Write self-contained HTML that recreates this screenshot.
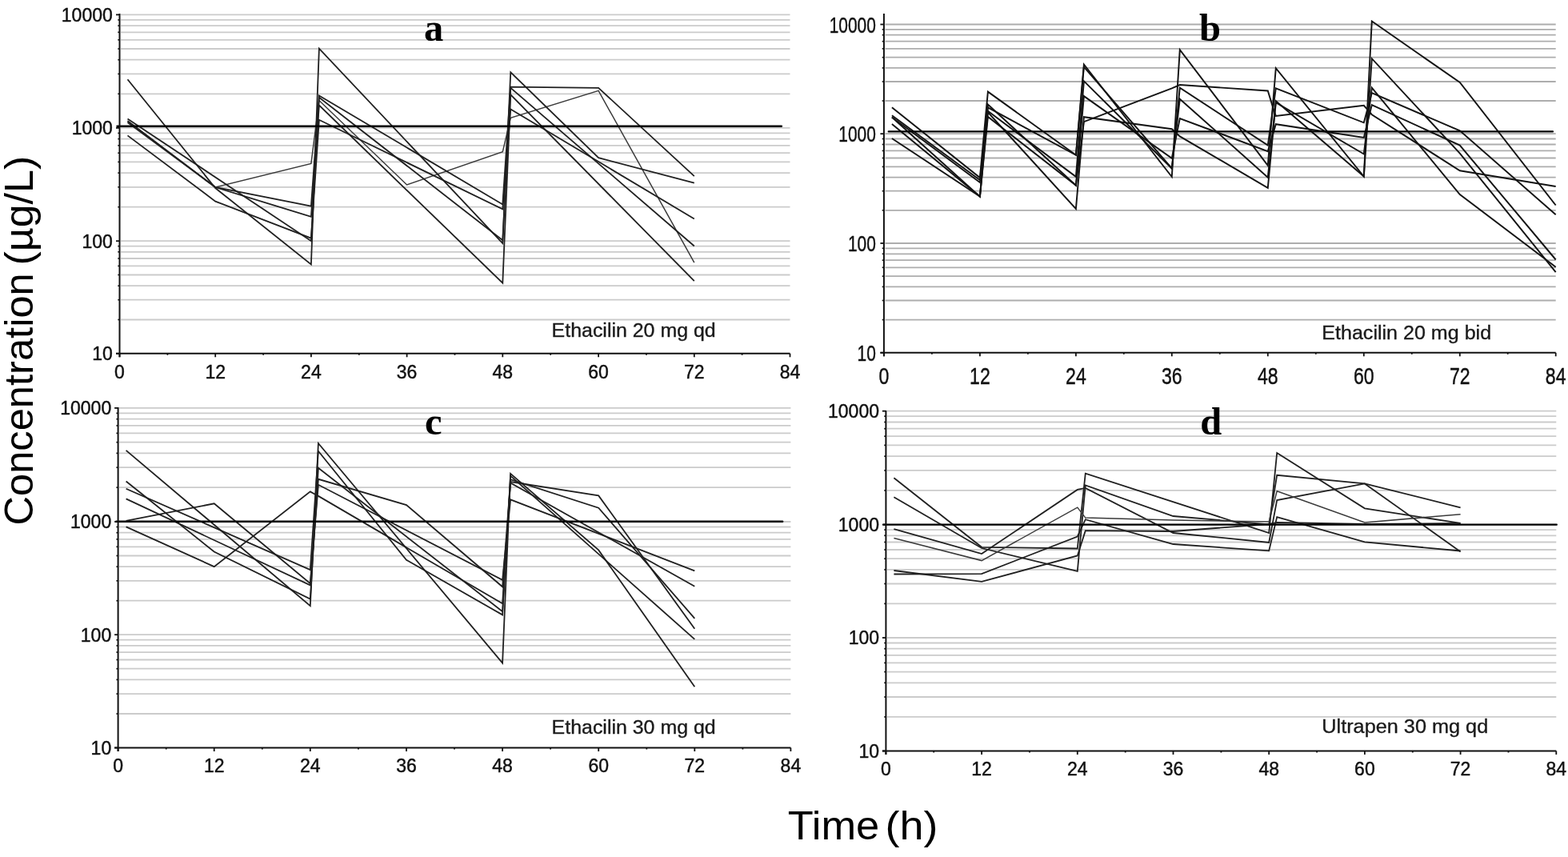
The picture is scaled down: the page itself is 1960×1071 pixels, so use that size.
<!DOCTYPE html>
<html><head><meta charset="utf-8"><title>Concentration-time profiles</title>
<style>
html,body{margin:0;padding:0;background:#fff;}
svg{display:block;}
.tk{font-family:"Liberation Sans",Arial,sans-serif;fill:#111;stroke:#111;stroke-width:0.45px;}
.an{font-family:"Liberation Sans",Arial,sans-serif;font-size:23.5px;fill:#1a1a1a;stroke:#1a1a1a;stroke-width:0.35px;}
.lt{font-family:"Liberation Serif","Times New Roman",serif;font-weight:bold;font-size:48.5px;fill:#000;}
.big{font-family:"Liberation Sans",Arial,sans-serif;font-size:50px;fill:#000;}
</style></head><body>
<svg width="1960" height="1071" viewBox="0 0 1960 1071">
<rect width="1960" height="1071" fill="#fff"/>
<g id="pa"><line x1="151.0" y1="399.5" x2="987.5" y2="399.5" stroke="#cbcbcb" stroke-width="1.8"/>
<line x1="151.0" y1="374.7" x2="987.5" y2="374.7" stroke="#cbcbcb" stroke-width="1.8"/>
<line x1="151.0" y1="357.2" x2="987.5" y2="357.2" stroke="#cbcbcb" stroke-width="1.8"/>
<line x1="151.0" y1="343.5" x2="987.5" y2="343.5" stroke="#cbcbcb" stroke-width="1.8"/>
<line x1="151.0" y1="332.4" x2="987.5" y2="332.4" stroke="#cbcbcb" stroke-width="1.8"/>
<line x1="151.0" y1="323.0" x2="987.5" y2="323.0" stroke="#cbcbcb" stroke-width="1.8"/>
<line x1="151.0" y1="314.8" x2="987.5" y2="314.8" stroke="#cbcbcb" stroke-width="1.8"/>
<line x1="151.0" y1="307.6" x2="987.5" y2="307.6" stroke="#cbcbcb" stroke-width="1.8"/>
<line x1="151.0" y1="301.2" x2="987.5" y2="301.2" stroke="#cbcbcb" stroke-width="1.8"/>
<line x1="151.0" y1="258.7" x2="987.5" y2="258.7" stroke="#cbcbcb" stroke-width="1.8"/>
<line x1="151.0" y1="233.8" x2="987.5" y2="233.8" stroke="#cbcbcb" stroke-width="1.8"/>
<line x1="151.0" y1="216.1" x2="987.5" y2="216.1" stroke="#cbcbcb" stroke-width="1.8"/>
<line x1="151.0" y1="202.4" x2="987.5" y2="202.4" stroke="#cbcbcb" stroke-width="1.8"/>
<line x1="151.0" y1="191.2" x2="987.5" y2="191.2" stroke="#cbcbcb" stroke-width="1.8"/>
<line x1="151.0" y1="181.8" x2="987.5" y2="181.8" stroke="#cbcbcb" stroke-width="1.8"/>
<line x1="151.0" y1="173.6" x2="987.5" y2="173.6" stroke="#cbcbcb" stroke-width="1.8"/>
<line x1="151.0" y1="166.4" x2="987.5" y2="166.4" stroke="#cbcbcb" stroke-width="1.8"/>
<line x1="151.0" y1="159.9" x2="987.5" y2="159.9" stroke="#cbcbcb" stroke-width="1.8"/>
<line x1="151.0" y1="117.3" x2="987.5" y2="117.3" stroke="#cbcbcb" stroke-width="1.8"/>
<line x1="151.0" y1="92.4" x2="987.5" y2="92.4" stroke="#cbcbcb" stroke-width="1.8"/>
<line x1="151.0" y1="74.7" x2="987.5" y2="74.7" stroke="#cbcbcb" stroke-width="1.8"/>
<line x1="151.0" y1="61.0" x2="987.5" y2="61.0" stroke="#cbcbcb" stroke-width="1.8"/>
<line x1="151.0" y1="49.8" x2="987.5" y2="49.8" stroke="#cbcbcb" stroke-width="1.8"/>
<line x1="151.0" y1="40.3" x2="987.5" y2="40.3" stroke="#cbcbcb" stroke-width="1.8"/>
<line x1="151.0" y1="32.1" x2="987.5" y2="32.1" stroke="#cbcbcb" stroke-width="1.8"/>
<line x1="151.0" y1="24.9" x2="987.5" y2="24.9" stroke="#cbcbcb" stroke-width="1.8"/>
<line x1="151.0" y1="18.4" x2="987.5" y2="18.4" stroke="#cbcbcb" stroke-width="1.8"/>
<line x1="145.0" y1="441.8" x2="149.5" y2="441.8" stroke="#111" stroke-width="1.8"/>
<line x1="147.3" y1="399.5" x2="149.5" y2="399.5" stroke="#111" stroke-width="1.6"/>
<line x1="147.3" y1="374.7" x2="149.5" y2="374.7" stroke="#111" stroke-width="1.6"/>
<line x1="147.3" y1="357.2" x2="149.5" y2="357.2" stroke="#111" stroke-width="1.6"/>
<line x1="147.3" y1="343.5" x2="149.5" y2="343.5" stroke="#111" stroke-width="1.6"/>
<line x1="147.3" y1="332.4" x2="149.5" y2="332.4" stroke="#111" stroke-width="1.6"/>
<line x1="147.3" y1="323.0" x2="149.5" y2="323.0" stroke="#111" stroke-width="1.6"/>
<line x1="147.3" y1="314.8" x2="149.5" y2="314.8" stroke="#111" stroke-width="1.6"/>
<line x1="147.3" y1="307.6" x2="149.5" y2="307.6" stroke="#111" stroke-width="1.6"/>
<line x1="145.0" y1="301.2" x2="149.5" y2="301.2" stroke="#111" stroke-width="1.8"/>
<line x1="147.3" y1="258.7" x2="149.5" y2="258.7" stroke="#111" stroke-width="1.6"/>
<line x1="147.3" y1="233.8" x2="149.5" y2="233.8" stroke="#111" stroke-width="1.6"/>
<line x1="147.3" y1="216.1" x2="149.5" y2="216.1" stroke="#111" stroke-width="1.6"/>
<line x1="147.3" y1="202.4" x2="149.5" y2="202.4" stroke="#111" stroke-width="1.6"/>
<line x1="147.3" y1="191.2" x2="149.5" y2="191.2" stroke="#111" stroke-width="1.6"/>
<line x1="147.3" y1="181.8" x2="149.5" y2="181.8" stroke="#111" stroke-width="1.6"/>
<line x1="147.3" y1="173.6" x2="149.5" y2="173.6" stroke="#111" stroke-width="1.6"/>
<line x1="147.3" y1="166.4" x2="149.5" y2="166.4" stroke="#111" stroke-width="1.6"/>
<line x1="145.0" y1="159.9" x2="149.5" y2="159.9" stroke="#111" stroke-width="1.8"/>
<line x1="147.3" y1="117.3" x2="149.5" y2="117.3" stroke="#111" stroke-width="1.6"/>
<line x1="147.3" y1="92.4" x2="149.5" y2="92.4" stroke="#111" stroke-width="1.6"/>
<line x1="147.3" y1="74.7" x2="149.5" y2="74.7" stroke="#111" stroke-width="1.6"/>
<line x1="147.3" y1="61.0" x2="149.5" y2="61.0" stroke="#111" stroke-width="1.6"/>
<line x1="147.3" y1="49.8" x2="149.5" y2="49.8" stroke="#111" stroke-width="1.6"/>
<line x1="147.3" y1="40.3" x2="149.5" y2="40.3" stroke="#111" stroke-width="1.6"/>
<line x1="147.3" y1="32.1" x2="149.5" y2="32.1" stroke="#111" stroke-width="1.6"/>
<line x1="147.3" y1="24.9" x2="149.5" y2="24.9" stroke="#111" stroke-width="1.6"/>
<line x1="145.0" y1="18.4" x2="149.5" y2="18.4" stroke="#111" stroke-width="1.8"/>
<line x1="149.5" y1="441.8" x2="149.5" y2="446.3" stroke="#111" stroke-width="1.8"/>
<line x1="209.4" y1="441.8" x2="209.4" y2="443.8" stroke="#111" stroke-width="1.8"/>
<line x1="269.2" y1="441.8" x2="269.2" y2="446.3" stroke="#111" stroke-width="1.8"/>
<line x1="329.1" y1="441.8" x2="329.1" y2="443.8" stroke="#111" stroke-width="1.8"/>
<line x1="388.9" y1="441.8" x2="388.9" y2="446.3" stroke="#111" stroke-width="1.8"/>
<line x1="448.8" y1="441.8" x2="448.8" y2="443.8" stroke="#111" stroke-width="1.8"/>
<line x1="508.6" y1="441.8" x2="508.6" y2="446.3" stroke="#111" stroke-width="1.8"/>
<line x1="568.5" y1="441.8" x2="568.5" y2="443.8" stroke="#111" stroke-width="1.8"/>
<line x1="628.3" y1="441.8" x2="628.3" y2="446.3" stroke="#111" stroke-width="1.8"/>
<line x1="688.2" y1="441.8" x2="688.2" y2="443.8" stroke="#111" stroke-width="1.8"/>
<line x1="748.1" y1="441.8" x2="748.1" y2="446.3" stroke="#111" stroke-width="1.8"/>
<line x1="807.9" y1="441.8" x2="807.9" y2="443.8" stroke="#111" stroke-width="1.8"/>
<line x1="867.8" y1="441.8" x2="867.8" y2="446.3" stroke="#111" stroke-width="1.8"/>
<line x1="927.6" y1="441.8" x2="927.6" y2="443.8" stroke="#111" stroke-width="1.8"/>
<line x1="987.5" y1="441.8" x2="987.5" y2="446.3" stroke="#111" stroke-width="1.8"/>
<polyline points="159.5,151.2 269.2,234.0 388.9,204.4 398.9,125.5 508.6,231.0 628.3,189.8 638.3,147.4 748.1,113.4 867.8,328.1" fill="none" stroke="#3a3a3a" stroke-width="1.5" stroke-linejoin="miter" stroke-miterlimit="10"/>
<polyline points="159.5,99.3 269.2,235.0 388.9,330.4 398.9,60.6 628.3,304.0 638.3,90.3 748.1,197.2 867.8,228.6" fill="none" stroke="#202020" stroke-width="1.8" stroke-linejoin="miter" stroke-miterlimit="10"/>
<polyline points="159.5,148.4 388.9,301.2 398.9,121.8 628.3,300.3 638.3,109.8 867.8,307.5" fill="none" stroke="#202020" stroke-width="1.8" stroke-linejoin="miter" stroke-miterlimit="10"/>
<polyline points="159.5,151.2 269.2,234.0 388.9,257.6 398.9,119.4 628.3,255.4 638.3,108.6 748.1,109.8 867.8,220.1" fill="none" stroke="#202020" stroke-width="1.8" stroke-linejoin="miter" stroke-miterlimit="10"/>
<polyline points="159.5,153.0 269.2,234.0 388.9,270.9 398.9,131.6 628.3,353.7 638.3,118.3 867.8,351.2" fill="none" stroke="#202020" stroke-width="1.8" stroke-linejoin="miter" stroke-miterlimit="10"/>
<polyline points="159.5,169.4 269.2,251.6 388.9,297.7 398.9,149.8 628.3,261.4 638.3,136.5 867.8,273.5" fill="none" stroke="#202020" stroke-width="1.8" stroke-linejoin="miter" stroke-miterlimit="10"/>
<line x1="146.6" y1="157.8" x2="976.8" y2="157.8" stroke="#000" stroke-width="2.6" stroke-linecap="round"/>
<line x1="149.5" y1="17.0" x2="149.5" y2="446.3" stroke="#111" stroke-width="2"/>
<line x1="145.0" y1="441.8" x2="987.5" y2="441.8" stroke="#111" stroke-width="2"/>
<text x="140.8" y="450.1" text-anchor="end" class="tk" font-size="23">10</text>
<text x="140.8" y="309.5" text-anchor="end" class="tk" font-size="23">100</text>
<text x="140.8" y="168.2" text-anchor="end" class="tk" font-size="23">1000</text>
<text x="140.8" y="26.7" text-anchor="end" class="tk" font-size="23">10000</text>
<text x="149.5" y="472.7" text-anchor="middle" class="tk" font-size="23">0</text>
<text x="269.2" y="472.7" text-anchor="middle" class="tk" font-size="23">12</text>
<text x="388.9" y="472.7" text-anchor="middle" class="tk" font-size="23">24</text>
<text x="508.6" y="472.7" text-anchor="middle" class="tk" font-size="23">36</text>
<text x="628.3" y="472.7" text-anchor="middle" class="tk" font-size="23">48</text>
<text x="748.1" y="472.7" text-anchor="middle" class="tk" font-size="23">60</text>
<text x="867.8" y="472.7" text-anchor="middle" class="tk" font-size="23">72</text>
<text x="987.5" y="472.7" text-anchor="middle" class="tk" font-size="23">84</text>
<text x="689.6" y="421.2" class="an" textLength="205.1" lengthAdjust="spacingAndGlyphs">Ethacilin 20 mg qd</text>
<text x="542.1" y="51.0" text-anchor="middle" class="lt">a</text></g>
<g id="pb"><line x1="1106.4" y1="399.6" x2="1944.7" y2="399.6" stroke="#adadad" stroke-width="1.8"/>
<line x1="1106.4" y1="375.5" x2="1944.7" y2="375.5" stroke="#adadad" stroke-width="1.8"/>
<line x1="1106.4" y1="358.4" x2="1944.7" y2="358.4" stroke="#adadad" stroke-width="1.8"/>
<line x1="1106.4" y1="345.2" x2="1944.7" y2="345.2" stroke="#adadad" stroke-width="1.8"/>
<line x1="1106.4" y1="334.3" x2="1944.7" y2="334.3" stroke="#adadad" stroke-width="1.8"/>
<line x1="1106.4" y1="325.2" x2="1944.7" y2="325.2" stroke="#adadad" stroke-width="1.8"/>
<line x1="1106.4" y1="317.3" x2="1944.7" y2="317.3" stroke="#adadad" stroke-width="1.8"/>
<line x1="1106.4" y1="310.3" x2="1944.7" y2="310.3" stroke="#adadad" stroke-width="1.8"/>
<line x1="1106.4" y1="304.0" x2="1944.7" y2="304.0" stroke="#adadad" stroke-width="1.8"/>
<line x1="1106.4" y1="262.8" x2="1944.7" y2="262.8" stroke="#adadad" stroke-width="1.8"/>
<line x1="1106.4" y1="238.7" x2="1944.7" y2="238.7" stroke="#adadad" stroke-width="1.8"/>
<line x1="1106.4" y1="221.6" x2="1944.7" y2="221.6" stroke="#adadad" stroke-width="1.8"/>
<line x1="1106.4" y1="208.4" x2="1944.7" y2="208.4" stroke="#adadad" stroke-width="1.8"/>
<line x1="1106.4" y1="197.5" x2="1944.7" y2="197.5" stroke="#adadad" stroke-width="1.8"/>
<line x1="1106.4" y1="188.4" x2="1944.7" y2="188.4" stroke="#adadad" stroke-width="1.8"/>
<line x1="1106.4" y1="180.5" x2="1944.7" y2="180.5" stroke="#adadad" stroke-width="1.8"/>
<line x1="1106.4" y1="173.5" x2="1944.7" y2="173.5" stroke="#adadad" stroke-width="1.8"/>
<line x1="1106.4" y1="167.2" x2="1944.7" y2="167.2" stroke="#adadad" stroke-width="1.8"/>
<line x1="1106.4" y1="126.0" x2="1944.7" y2="126.0" stroke="#adadad" stroke-width="1.8"/>
<line x1="1106.4" y1="102.0" x2="1944.7" y2="102.0" stroke="#adadad" stroke-width="1.8"/>
<line x1="1106.4" y1="84.9" x2="1944.7" y2="84.9" stroke="#adadad" stroke-width="1.8"/>
<line x1="1106.4" y1="71.7" x2="1944.7" y2="71.7" stroke="#adadad" stroke-width="1.8"/>
<line x1="1106.4" y1="60.8" x2="1944.7" y2="60.8" stroke="#adadad" stroke-width="1.8"/>
<line x1="1106.4" y1="51.7" x2="1944.7" y2="51.7" stroke="#adadad" stroke-width="1.8"/>
<line x1="1106.4" y1="43.7" x2="1944.7" y2="43.7" stroke="#adadad" stroke-width="1.8"/>
<line x1="1106.4" y1="36.8" x2="1944.7" y2="36.8" stroke="#adadad" stroke-width="1.8"/>
<line x1="1106.4" y1="30.5" x2="1944.7" y2="30.5" stroke="#adadad" stroke-width="1.8"/>
<line x1="1100.4" y1="440.8" x2="1104.9" y2="440.8" stroke="#111" stroke-width="1.8"/>
<line x1="1102.7" y1="399.6" x2="1104.9" y2="399.6" stroke="#111" stroke-width="1.6"/>
<line x1="1102.7" y1="375.5" x2="1104.9" y2="375.5" stroke="#111" stroke-width="1.6"/>
<line x1="1102.7" y1="358.4" x2="1104.9" y2="358.4" stroke="#111" stroke-width="1.6"/>
<line x1="1102.7" y1="345.2" x2="1104.9" y2="345.2" stroke="#111" stroke-width="1.6"/>
<line x1="1102.7" y1="334.3" x2="1104.9" y2="334.3" stroke="#111" stroke-width="1.6"/>
<line x1="1102.7" y1="325.2" x2="1104.9" y2="325.2" stroke="#111" stroke-width="1.6"/>
<line x1="1102.7" y1="317.3" x2="1104.9" y2="317.3" stroke="#111" stroke-width="1.6"/>
<line x1="1102.7" y1="310.3" x2="1104.9" y2="310.3" stroke="#111" stroke-width="1.6"/>
<line x1="1100.4" y1="304.0" x2="1104.9" y2="304.0" stroke="#111" stroke-width="1.8"/>
<line x1="1102.7" y1="262.8" x2="1104.9" y2="262.8" stroke="#111" stroke-width="1.6"/>
<line x1="1102.7" y1="238.7" x2="1104.9" y2="238.7" stroke="#111" stroke-width="1.6"/>
<line x1="1102.7" y1="221.6" x2="1104.9" y2="221.6" stroke="#111" stroke-width="1.6"/>
<line x1="1102.7" y1="208.4" x2="1104.9" y2="208.4" stroke="#111" stroke-width="1.6"/>
<line x1="1102.7" y1="197.5" x2="1104.9" y2="197.5" stroke="#111" stroke-width="1.6"/>
<line x1="1102.7" y1="188.4" x2="1104.9" y2="188.4" stroke="#111" stroke-width="1.6"/>
<line x1="1102.7" y1="180.5" x2="1104.9" y2="180.5" stroke="#111" stroke-width="1.6"/>
<line x1="1102.7" y1="173.5" x2="1104.9" y2="173.5" stroke="#111" stroke-width="1.6"/>
<line x1="1100.4" y1="167.2" x2="1104.9" y2="167.2" stroke="#111" stroke-width="1.8"/>
<line x1="1102.7" y1="126.0" x2="1104.9" y2="126.0" stroke="#111" stroke-width="1.6"/>
<line x1="1102.7" y1="102.0" x2="1104.9" y2="102.0" stroke="#111" stroke-width="1.6"/>
<line x1="1102.7" y1="84.9" x2="1104.9" y2="84.9" stroke="#111" stroke-width="1.6"/>
<line x1="1102.7" y1="71.7" x2="1104.9" y2="71.7" stroke="#111" stroke-width="1.6"/>
<line x1="1102.7" y1="60.8" x2="1104.9" y2="60.8" stroke="#111" stroke-width="1.6"/>
<line x1="1102.7" y1="51.7" x2="1104.9" y2="51.7" stroke="#111" stroke-width="1.6"/>
<line x1="1102.7" y1="43.7" x2="1104.9" y2="43.7" stroke="#111" stroke-width="1.6"/>
<line x1="1102.7" y1="36.8" x2="1104.9" y2="36.8" stroke="#111" stroke-width="1.6"/>
<line x1="1100.4" y1="30.5" x2="1104.9" y2="30.5" stroke="#111" stroke-width="1.8"/>
<line x1="1104.9" y1="440.8" x2="1104.9" y2="445.3" stroke="#111" stroke-width="1.8"/>
<line x1="1164.9" y1="440.8" x2="1164.9" y2="442.8" stroke="#111" stroke-width="1.8"/>
<line x1="1224.9" y1="440.8" x2="1224.9" y2="445.3" stroke="#111" stroke-width="1.8"/>
<line x1="1284.9" y1="440.8" x2="1284.9" y2="442.8" stroke="#111" stroke-width="1.8"/>
<line x1="1344.9" y1="440.8" x2="1344.9" y2="445.3" stroke="#111" stroke-width="1.8"/>
<line x1="1404.8" y1="440.8" x2="1404.8" y2="442.8" stroke="#111" stroke-width="1.8"/>
<line x1="1464.8" y1="440.8" x2="1464.8" y2="445.3" stroke="#111" stroke-width="1.8"/>
<line x1="1524.8" y1="440.8" x2="1524.8" y2="442.8" stroke="#111" stroke-width="1.8"/>
<line x1="1584.8" y1="440.8" x2="1584.8" y2="445.3" stroke="#111" stroke-width="1.8"/>
<line x1="1644.8" y1="440.8" x2="1644.8" y2="442.8" stroke="#111" stroke-width="1.8"/>
<line x1="1704.8" y1="440.8" x2="1704.8" y2="445.3" stroke="#111" stroke-width="1.8"/>
<line x1="1764.8" y1="440.8" x2="1764.8" y2="442.8" stroke="#111" stroke-width="1.8"/>
<line x1="1824.8" y1="440.8" x2="1824.8" y2="445.3" stroke="#111" stroke-width="1.8"/>
<line x1="1884.7" y1="440.8" x2="1884.7" y2="442.8" stroke="#111" stroke-width="1.8"/>
<line x1="1944.7" y1="440.8" x2="1944.7" y2="445.3" stroke="#111" stroke-width="1.8"/>
<polyline points="1114.9,134.2 1224.9,222.1 1234.9,114.6 1344.9,193.8 1354.9,80.5 1464.8,221.0 1474.8,62.1 1584.8,206.8 1594.8,85.2 1704.8,220.5 1714.8,26.5 1824.8,103.0 1944.7,256.5" fill="none" stroke="#141414" stroke-width="1.95" stroke-linejoin="miter" stroke-miterlimit="10"/>
<polyline points="1114.9,144.3 1224.9,225.0 1234.9,134.4 1344.9,193.8 1354.9,83.5 1464.8,210.5 1474.8,123.7 1584.8,221.7 1594.8,126.3 1704.8,220.5 1714.8,73.2 1824.8,191.6 1944.7,340.2" fill="none" stroke="#141414" stroke-width="1.95" stroke-linejoin="miter" stroke-miterlimit="10"/>
<polyline points="1114.9,146.5 1224.9,228.0 1234.9,138.8 1344.9,220.9 1354.9,101.4 1464.8,210.5 1474.8,109.7 1584.8,181.6 1594.8,110.4 1704.8,153.3 1714.8,116.1 1824.8,163.3 1944.7,268.3" fill="none" stroke="#141414" stroke-width="1.95" stroke-linejoin="miter" stroke-miterlimit="10"/>
<polyline points="1114.9,146.5 1224.9,245.6 1234.9,130.6 1344.9,231.6 1354.9,120.1 1464.8,197.8 1474.8,148.0 1584.8,189.1 1594.8,155.2 1704.8,172.0 1714.8,131.1 1824.8,181.5 1944.7,324.5" fill="none" stroke="#141414" stroke-width="1.95" stroke-linejoin="miter" stroke-miterlimit="10"/>
<polyline points="1114.9,155.1 1224.9,245.6 1234.9,145.9 1344.9,231.6 1354.9,152.2 1464.8,110.4 1474.8,106.0 1584.8,113.5 1591.3,134.7 1594.8,144.9 1704.8,131.9 1714.8,143.2 1824.8,213.3 1944.7,233.0" fill="none" stroke="#141414" stroke-width="1.95" stroke-linejoin="miter" stroke-miterlimit="10"/>
<polyline points="1114.9,173.0 1224.9,245.6 1234.9,140.3 1344.9,261.0 1354.9,146.2 1464.8,161.2 1474.8,170.4 1584.8,234.8 1594.8,128.1 1704.8,192.5 1714.8,109.6 1824.8,243.0 1944.7,333.7" fill="none" stroke="#141414" stroke-width="1.95" stroke-linejoin="miter" stroke-miterlimit="10"/>
<line x1="1110.7" y1="164.4" x2="1941.0" y2="164.4" stroke="#000" stroke-width="2.3" stroke-linecap="round"/>
<line x1="1104.9" y1="17.0" x2="1104.9" y2="445.3" stroke="#111" stroke-width="2"/>
<line x1="1100.4" y1="440.8" x2="1944.7" y2="440.8" stroke="#111" stroke-width="2"/>
<text transform="translate(1094.9,451.0) scale(0.74,1)" x="0" y="0" text-anchor="end" class="tk" font-size="28.3">10</text>
<text transform="translate(1094.9,314.2) scale(0.74,1)" x="0" y="0" text-anchor="end" class="tk" font-size="28.3">100</text>
<text transform="translate(1094.9,177.4) scale(0.74,1)" x="0" y="0" text-anchor="end" class="tk" font-size="28.3">1000</text>
<text transform="translate(1094.9,40.7) scale(0.74,1)" x="0" y="0" text-anchor="end" class="tk" font-size="28.3">10000</text>
<text transform="translate(1104.9,480.0) scale(0.76,1)" x="0" y="0" text-anchor="middle" class="tk" font-size="30.4">0</text>
<text transform="translate(1224.9,480.0) scale(0.76,1)" x="0" y="0" text-anchor="middle" class="tk" font-size="30.4">12</text>
<text transform="translate(1344.9,480.0) scale(0.76,1)" x="0" y="0" text-anchor="middle" class="tk" font-size="30.4">24</text>
<text transform="translate(1464.8,480.0) scale(0.76,1)" x="0" y="0" text-anchor="middle" class="tk" font-size="30.4">36</text>
<text transform="translate(1584.8,480.0) scale(0.76,1)" x="0" y="0" text-anchor="middle" class="tk" font-size="30.4">48</text>
<text transform="translate(1704.8,480.0) scale(0.76,1)" x="0" y="0" text-anchor="middle" class="tk" font-size="30.4">60</text>
<text transform="translate(1824.8,480.0) scale(0.76,1)" x="0" y="0" text-anchor="middle" class="tk" font-size="30.4">72</text>
<text transform="translate(1944.7,480.0) scale(0.76,1)" x="0" y="0" text-anchor="middle" class="tk" font-size="30.4">84</text>
<text x="1652.3" y="423.8" class="an" textLength="211.8" lengthAdjust="spacingAndGlyphs">Ethacilin 20 mg bid</text>
<text x="1512.5" y="51.0" text-anchor="middle" class="lt">b</text></g>
<g id="pc"><line x1="149.1" y1="892.0" x2="988.4" y2="892.0" stroke="#cbcbcb" stroke-width="1.8"/>
<line x1="149.1" y1="867.1" x2="988.4" y2="867.1" stroke="#cbcbcb" stroke-width="1.8"/>
<line x1="149.1" y1="849.4" x2="988.4" y2="849.4" stroke="#cbcbcb" stroke-width="1.8"/>
<line x1="149.1" y1="835.7" x2="988.4" y2="835.7" stroke="#cbcbcb" stroke-width="1.8"/>
<line x1="149.1" y1="824.5" x2="988.4" y2="824.5" stroke="#cbcbcb" stroke-width="1.8"/>
<line x1="149.1" y1="815.1" x2="988.4" y2="815.1" stroke="#cbcbcb" stroke-width="1.8"/>
<line x1="149.1" y1="806.9" x2="988.4" y2="806.9" stroke="#cbcbcb" stroke-width="1.8"/>
<line x1="149.1" y1="799.7" x2="988.4" y2="799.7" stroke="#cbcbcb" stroke-width="1.8"/>
<line x1="149.1" y1="793.2" x2="988.4" y2="793.2" stroke="#cbcbcb" stroke-width="1.8"/>
<line x1="149.1" y1="750.7" x2="988.4" y2="750.7" stroke="#cbcbcb" stroke-width="1.8"/>
<line x1="149.1" y1="725.8" x2="988.4" y2="725.8" stroke="#cbcbcb" stroke-width="1.8"/>
<line x1="149.1" y1="708.2" x2="988.4" y2="708.2" stroke="#cbcbcb" stroke-width="1.8"/>
<line x1="149.1" y1="694.5" x2="988.4" y2="694.5" stroke="#cbcbcb" stroke-width="1.8"/>
<line x1="149.1" y1="683.3" x2="988.4" y2="683.3" stroke="#cbcbcb" stroke-width="1.8"/>
<line x1="149.1" y1="673.9" x2="988.4" y2="673.9" stroke="#cbcbcb" stroke-width="1.8"/>
<line x1="149.1" y1="665.7" x2="988.4" y2="665.7" stroke="#cbcbcb" stroke-width="1.8"/>
<line x1="149.1" y1="658.5" x2="988.4" y2="658.5" stroke="#cbcbcb" stroke-width="1.8"/>
<line x1="149.1" y1="652.0" x2="988.4" y2="652.0" stroke="#cbcbcb" stroke-width="1.8"/>
<line x1="149.1" y1="609.2" x2="988.4" y2="609.2" stroke="#cbcbcb" stroke-width="1.8"/>
<line x1="149.1" y1="584.2" x2="988.4" y2="584.2" stroke="#cbcbcb" stroke-width="1.8"/>
<line x1="149.1" y1="566.4" x2="988.4" y2="566.4" stroke="#cbcbcb" stroke-width="1.8"/>
<line x1="149.1" y1="552.7" x2="988.4" y2="552.7" stroke="#cbcbcb" stroke-width="1.8"/>
<line x1="149.1" y1="541.4" x2="988.4" y2="541.4" stroke="#cbcbcb" stroke-width="1.8"/>
<line x1="149.1" y1="531.9" x2="988.4" y2="531.9" stroke="#cbcbcb" stroke-width="1.8"/>
<line x1="149.1" y1="523.7" x2="988.4" y2="523.7" stroke="#cbcbcb" stroke-width="1.8"/>
<line x1="149.1" y1="516.4" x2="988.4" y2="516.4" stroke="#cbcbcb" stroke-width="1.8"/>
<line x1="149.1" y1="509.9" x2="988.4" y2="509.9" stroke="#cbcbcb" stroke-width="1.8"/>
<line x1="143.1" y1="934.5" x2="147.6" y2="934.5" stroke="#111" stroke-width="1.8"/>
<line x1="145.4" y1="892.0" x2="147.6" y2="892.0" stroke="#111" stroke-width="1.6"/>
<line x1="145.4" y1="867.1" x2="147.6" y2="867.1" stroke="#111" stroke-width="1.6"/>
<line x1="145.4" y1="849.4" x2="147.6" y2="849.4" stroke="#111" stroke-width="1.6"/>
<line x1="145.4" y1="835.7" x2="147.6" y2="835.7" stroke="#111" stroke-width="1.6"/>
<line x1="145.4" y1="824.5" x2="147.6" y2="824.5" stroke="#111" stroke-width="1.6"/>
<line x1="145.4" y1="815.1" x2="147.6" y2="815.1" stroke="#111" stroke-width="1.6"/>
<line x1="145.4" y1="806.9" x2="147.6" y2="806.9" stroke="#111" stroke-width="1.6"/>
<line x1="145.4" y1="799.7" x2="147.6" y2="799.7" stroke="#111" stroke-width="1.6"/>
<line x1="143.1" y1="793.2" x2="147.6" y2="793.2" stroke="#111" stroke-width="1.8"/>
<line x1="145.4" y1="750.7" x2="147.6" y2="750.7" stroke="#111" stroke-width="1.6"/>
<line x1="145.4" y1="725.8" x2="147.6" y2="725.8" stroke="#111" stroke-width="1.6"/>
<line x1="145.4" y1="708.2" x2="147.6" y2="708.2" stroke="#111" stroke-width="1.6"/>
<line x1="145.4" y1="694.5" x2="147.6" y2="694.5" stroke="#111" stroke-width="1.6"/>
<line x1="145.4" y1="683.3" x2="147.6" y2="683.3" stroke="#111" stroke-width="1.6"/>
<line x1="145.4" y1="673.9" x2="147.6" y2="673.9" stroke="#111" stroke-width="1.6"/>
<line x1="145.4" y1="665.7" x2="147.6" y2="665.7" stroke="#111" stroke-width="1.6"/>
<line x1="145.4" y1="658.5" x2="147.6" y2="658.5" stroke="#111" stroke-width="1.6"/>
<line x1="143.1" y1="652.0" x2="147.6" y2="652.0" stroke="#111" stroke-width="1.8"/>
<line x1="145.4" y1="609.2" x2="147.6" y2="609.2" stroke="#111" stroke-width="1.6"/>
<line x1="145.4" y1="584.2" x2="147.6" y2="584.2" stroke="#111" stroke-width="1.6"/>
<line x1="145.4" y1="566.4" x2="147.6" y2="566.4" stroke="#111" stroke-width="1.6"/>
<line x1="145.4" y1="552.7" x2="147.6" y2="552.7" stroke="#111" stroke-width="1.6"/>
<line x1="145.4" y1="541.4" x2="147.6" y2="541.4" stroke="#111" stroke-width="1.6"/>
<line x1="145.4" y1="531.9" x2="147.6" y2="531.9" stroke="#111" stroke-width="1.6"/>
<line x1="145.4" y1="523.7" x2="147.6" y2="523.7" stroke="#111" stroke-width="1.6"/>
<line x1="145.4" y1="516.4" x2="147.6" y2="516.4" stroke="#111" stroke-width="1.6"/>
<line x1="143.1" y1="509.9" x2="147.6" y2="509.9" stroke="#111" stroke-width="1.8"/>
<line x1="147.6" y1="934.5" x2="147.6" y2="939.0" stroke="#111" stroke-width="1.8"/>
<line x1="207.7" y1="934.5" x2="207.7" y2="936.5" stroke="#111" stroke-width="1.8"/>
<line x1="267.7" y1="934.5" x2="267.7" y2="939.0" stroke="#111" stroke-width="1.8"/>
<line x1="327.8" y1="934.5" x2="327.8" y2="936.5" stroke="#111" stroke-width="1.8"/>
<line x1="387.8" y1="934.5" x2="387.8" y2="939.0" stroke="#111" stroke-width="1.8"/>
<line x1="447.9" y1="934.5" x2="447.9" y2="936.5" stroke="#111" stroke-width="1.8"/>
<line x1="508.0" y1="934.5" x2="508.0" y2="939.0" stroke="#111" stroke-width="1.8"/>
<line x1="568.0" y1="934.5" x2="568.0" y2="936.5" stroke="#111" stroke-width="1.8"/>
<line x1="628.1" y1="934.5" x2="628.1" y2="939.0" stroke="#111" stroke-width="1.8"/>
<line x1="688.1" y1="934.5" x2="688.1" y2="936.5" stroke="#111" stroke-width="1.8"/>
<line x1="748.2" y1="934.5" x2="748.2" y2="939.0" stroke="#111" stroke-width="1.8"/>
<line x1="808.3" y1="934.5" x2="808.3" y2="936.5" stroke="#111" stroke-width="1.8"/>
<line x1="868.3" y1="934.5" x2="868.3" y2="939.0" stroke="#111" stroke-width="1.8"/>
<line x1="928.4" y1="934.5" x2="928.4" y2="936.5" stroke="#111" stroke-width="1.8"/>
<line x1="988.4" y1="934.5" x2="988.4" y2="939.0" stroke="#111" stroke-width="1.8"/>
<polyline points="157.6,562.9 387.8,757.2 397.9,554.0 628.1,828.6 638.1,591.8 748.2,687.4 868.3,858.2" fill="none" stroke="#202020" stroke-width="1.8" stroke-linejoin="miter" stroke-miterlimit="10"/>
<polyline points="157.6,610.8 387.8,712.1 397.9,563.8 508.0,699.7 628.1,768.4 638.1,594.7 868.3,798.9" fill="none" stroke="#202020" stroke-width="1.8" stroke-linejoin="miter" stroke-miterlimit="10"/>
<polyline points="157.6,601.5 267.7,689.5 387.8,748.6 397.9,584.8 628.1,764.2 638.1,599.1 748.2,634.7 868.3,772.8" fill="none" stroke="#202020" stroke-width="1.8" stroke-linejoin="miter" stroke-miterlimit="10"/>
<polyline points="157.6,623.4 387.8,731.4 397.9,598.8 508.0,631.1 628.1,733.3 638.1,602.0 748.2,619.4 868.3,785.8" fill="none" stroke="#202020" stroke-width="1.8" stroke-linejoin="miter" stroke-miterlimit="10"/>
<polyline points="157.6,658.4 267.7,708.1 387.8,614.4 393.8,617.8 397.9,619.9 628.1,754.3 638.1,603.4 868.3,732.8" fill="none" stroke="#202020" stroke-width="1.8" stroke-linejoin="miter" stroke-miterlimit="10"/>
<polyline points="157.6,650.9 267.7,629.3 387.8,729.3 397.9,605.8 628.1,724.9 638.1,624.3 868.3,713.4" fill="none" stroke="#202020" stroke-width="1.8" stroke-linejoin="miter" stroke-miterlimit="10"/>
<line x1="145.3" y1="651.7" x2="978.1" y2="651.7" stroke="#000" stroke-width="2.6" stroke-linecap="round"/>
<line x1="147.6" y1="509.0" x2="147.6" y2="939.0" stroke="#111" stroke-width="2"/>
<line x1="143.1" y1="934.5" x2="988.4" y2="934.5" stroke="#111" stroke-width="2"/>
<text x="139.2" y="942.8" text-anchor="end" class="tk" font-size="23">10</text>
<text x="139.2" y="801.5" text-anchor="end" class="tk" font-size="23">100</text>
<text x="139.2" y="660.3" text-anchor="end" class="tk" font-size="23">1000</text>
<text x="139.2" y="518.2" text-anchor="end" class="tk" font-size="23">10000</text>
<text x="147.6" y="965.2" text-anchor="middle" class="tk" font-size="23">0</text>
<text x="267.7" y="965.2" text-anchor="middle" class="tk" font-size="23">12</text>
<text x="387.8" y="965.2" text-anchor="middle" class="tk" font-size="23">24</text>
<text x="508.0" y="965.2" text-anchor="middle" class="tk" font-size="23">36</text>
<text x="628.1" y="965.2" text-anchor="middle" class="tk" font-size="23">48</text>
<text x="748.2" y="965.2" text-anchor="middle" class="tk" font-size="23">60</text>
<text x="868.3" y="965.2" text-anchor="middle" class="tk" font-size="23">72</text>
<text x="988.4" y="965.2" text-anchor="middle" class="tk" font-size="23">84</text>
<text x="689.6" y="916.5" class="an" textLength="205.1" lengthAdjust="spacingAndGlyphs">Ethacilin 30 mg qd</text>
<text x="541.8" y="543.2" text-anchor="middle" class="lt">c</text></g>
<g id="pd"><line x1="1108.9" y1="895.9" x2="1945.3" y2="895.9" stroke="#cbcbcb" stroke-width="1.8"/>
<line x1="1108.9" y1="871.0" x2="1945.3" y2="871.0" stroke="#cbcbcb" stroke-width="1.8"/>
<line x1="1108.9" y1="853.3" x2="1945.3" y2="853.3" stroke="#cbcbcb" stroke-width="1.8"/>
<line x1="1108.9" y1="839.6" x2="1945.3" y2="839.6" stroke="#cbcbcb" stroke-width="1.8"/>
<line x1="1108.9" y1="828.4" x2="1945.3" y2="828.4" stroke="#cbcbcb" stroke-width="1.8"/>
<line x1="1108.9" y1="818.9" x2="1945.3" y2="818.9" stroke="#cbcbcb" stroke-width="1.8"/>
<line x1="1108.9" y1="810.7" x2="1945.3" y2="810.7" stroke="#cbcbcb" stroke-width="1.8"/>
<line x1="1108.9" y1="803.5" x2="1945.3" y2="803.5" stroke="#cbcbcb" stroke-width="1.8"/>
<line x1="1108.9" y1="797.0" x2="1945.3" y2="797.0" stroke="#cbcbcb" stroke-width="1.8"/>
<line x1="1108.9" y1="754.4" x2="1945.3" y2="754.4" stroke="#cbcbcb" stroke-width="1.8"/>
<line x1="1108.9" y1="729.5" x2="1945.3" y2="729.5" stroke="#cbcbcb" stroke-width="1.8"/>
<line x1="1108.9" y1="711.9" x2="1945.3" y2="711.9" stroke="#cbcbcb" stroke-width="1.8"/>
<line x1="1108.9" y1="698.2" x2="1945.3" y2="698.2" stroke="#cbcbcb" stroke-width="1.8"/>
<line x1="1108.9" y1="687.0" x2="1945.3" y2="687.0" stroke="#cbcbcb" stroke-width="1.8"/>
<line x1="1108.9" y1="677.5" x2="1945.3" y2="677.5" stroke="#cbcbcb" stroke-width="1.8"/>
<line x1="1108.9" y1="669.3" x2="1945.3" y2="669.3" stroke="#cbcbcb" stroke-width="1.8"/>
<line x1="1108.9" y1="662.1" x2="1945.3" y2="662.1" stroke="#cbcbcb" stroke-width="1.8"/>
<line x1="1108.9" y1="655.6" x2="1945.3" y2="655.6" stroke="#cbcbcb" stroke-width="1.8"/>
<line x1="1108.9" y1="612.9" x2="1945.3" y2="612.9" stroke="#cbcbcb" stroke-width="1.8"/>
<line x1="1108.9" y1="587.9" x2="1945.3" y2="587.9" stroke="#cbcbcb" stroke-width="1.8"/>
<line x1="1108.9" y1="570.2" x2="1945.3" y2="570.2" stroke="#cbcbcb" stroke-width="1.8"/>
<line x1="1108.9" y1="556.4" x2="1945.3" y2="556.4" stroke="#cbcbcb" stroke-width="1.8"/>
<line x1="1108.9" y1="545.2" x2="1945.3" y2="545.2" stroke="#cbcbcb" stroke-width="1.8"/>
<line x1="1108.9" y1="535.7" x2="1945.3" y2="535.7" stroke="#cbcbcb" stroke-width="1.8"/>
<line x1="1108.9" y1="527.5" x2="1945.3" y2="527.5" stroke="#cbcbcb" stroke-width="1.8"/>
<line x1="1108.9" y1="520.2" x2="1945.3" y2="520.2" stroke="#cbcbcb" stroke-width="1.8"/>
<line x1="1108.9" y1="513.7" x2="1945.3" y2="513.7" stroke="#cbcbcb" stroke-width="1.8"/>
<line x1="1102.9" y1="938.5" x2="1107.4" y2="938.5" stroke="#111" stroke-width="1.8"/>
<line x1="1105.2" y1="895.9" x2="1107.4" y2="895.9" stroke="#111" stroke-width="1.6"/>
<line x1="1105.2" y1="871.0" x2="1107.4" y2="871.0" stroke="#111" stroke-width="1.6"/>
<line x1="1105.2" y1="853.3" x2="1107.4" y2="853.3" stroke="#111" stroke-width="1.6"/>
<line x1="1105.2" y1="839.6" x2="1107.4" y2="839.6" stroke="#111" stroke-width="1.6"/>
<line x1="1105.2" y1="828.4" x2="1107.4" y2="828.4" stroke="#111" stroke-width="1.6"/>
<line x1="1105.2" y1="818.9" x2="1107.4" y2="818.9" stroke="#111" stroke-width="1.6"/>
<line x1="1105.2" y1="810.7" x2="1107.4" y2="810.7" stroke="#111" stroke-width="1.6"/>
<line x1="1105.2" y1="803.5" x2="1107.4" y2="803.5" stroke="#111" stroke-width="1.6"/>
<line x1="1102.9" y1="797.0" x2="1107.4" y2="797.0" stroke="#111" stroke-width="1.8"/>
<line x1="1105.2" y1="754.4" x2="1107.4" y2="754.4" stroke="#111" stroke-width="1.6"/>
<line x1="1105.2" y1="729.5" x2="1107.4" y2="729.5" stroke="#111" stroke-width="1.6"/>
<line x1="1105.2" y1="711.9" x2="1107.4" y2="711.9" stroke="#111" stroke-width="1.6"/>
<line x1="1105.2" y1="698.2" x2="1107.4" y2="698.2" stroke="#111" stroke-width="1.6"/>
<line x1="1105.2" y1="687.0" x2="1107.4" y2="687.0" stroke="#111" stroke-width="1.6"/>
<line x1="1105.2" y1="677.5" x2="1107.4" y2="677.5" stroke="#111" stroke-width="1.6"/>
<line x1="1105.2" y1="669.3" x2="1107.4" y2="669.3" stroke="#111" stroke-width="1.6"/>
<line x1="1105.2" y1="662.1" x2="1107.4" y2="662.1" stroke="#111" stroke-width="1.6"/>
<line x1="1102.9" y1="655.6" x2="1107.4" y2="655.6" stroke="#111" stroke-width="1.8"/>
<line x1="1105.2" y1="612.9" x2="1107.4" y2="612.9" stroke="#111" stroke-width="1.6"/>
<line x1="1105.2" y1="587.9" x2="1107.4" y2="587.9" stroke="#111" stroke-width="1.6"/>
<line x1="1105.2" y1="570.2" x2="1107.4" y2="570.2" stroke="#111" stroke-width="1.6"/>
<line x1="1105.2" y1="556.4" x2="1107.4" y2="556.4" stroke="#111" stroke-width="1.6"/>
<line x1="1105.2" y1="545.2" x2="1107.4" y2="545.2" stroke="#111" stroke-width="1.6"/>
<line x1="1105.2" y1="535.7" x2="1107.4" y2="535.7" stroke="#111" stroke-width="1.6"/>
<line x1="1105.2" y1="527.5" x2="1107.4" y2="527.5" stroke="#111" stroke-width="1.6"/>
<line x1="1105.2" y1="520.2" x2="1107.4" y2="520.2" stroke="#111" stroke-width="1.6"/>
<line x1="1102.9" y1="513.7" x2="1107.4" y2="513.7" stroke="#111" stroke-width="1.8"/>
<line x1="1107.4" y1="938.5" x2="1107.4" y2="943.0" stroke="#111" stroke-width="1.8"/>
<line x1="1167.2" y1="938.5" x2="1167.2" y2="940.5" stroke="#111" stroke-width="1.8"/>
<line x1="1227.1" y1="938.5" x2="1227.1" y2="943.0" stroke="#111" stroke-width="1.8"/>
<line x1="1287.0" y1="938.5" x2="1287.0" y2="940.5" stroke="#111" stroke-width="1.8"/>
<line x1="1346.8" y1="938.5" x2="1346.8" y2="943.0" stroke="#111" stroke-width="1.8"/>
<line x1="1406.7" y1="938.5" x2="1406.7" y2="940.5" stroke="#111" stroke-width="1.8"/>
<line x1="1466.5" y1="938.5" x2="1466.5" y2="943.0" stroke="#111" stroke-width="1.8"/>
<line x1="1526.4" y1="938.5" x2="1526.4" y2="940.5" stroke="#111" stroke-width="1.8"/>
<line x1="1586.2" y1="938.5" x2="1586.2" y2="943.0" stroke="#111" stroke-width="1.8"/>
<line x1="1646.1" y1="938.5" x2="1646.1" y2="940.5" stroke="#111" stroke-width="1.8"/>
<line x1="1705.9" y1="938.5" x2="1705.9" y2="943.0" stroke="#111" stroke-width="1.8"/>
<line x1="1765.8" y1="938.5" x2="1765.8" y2="940.5" stroke="#111" stroke-width="1.8"/>
<line x1="1825.6" y1="938.5" x2="1825.6" y2="943.0" stroke="#111" stroke-width="1.8"/>
<line x1="1885.5" y1="938.5" x2="1885.5" y2="940.5" stroke="#111" stroke-width="1.8"/>
<line x1="1945.3" y1="938.5" x2="1945.3" y2="943.0" stroke="#111" stroke-width="1.8"/>
<polyline points="1117.4,597.2 1227.1,683.8 1346.8,685.5 1356.8,591.7 1586.2,666.0 1596.2,566.1 1705.9,635.3 1825.6,653.9" fill="none" stroke="#202020" stroke-width="1.8" stroke-linejoin="miter" stroke-miterlimit="10"/>
<polyline points="1117.4,621.3 1227.1,685.0 1346.8,713.9 1356.8,606.4 1466.5,645.0 1586.2,655.5 1596.2,593.8 1705.9,604.4 1825.6,634.3" fill="none" stroke="#202020" stroke-width="1.8" stroke-linejoin="miter" stroke-miterlimit="10"/>
<polyline points="1117.4,661.2 1227.1,692.1 1346.8,611.9 1356.8,609.9 1466.5,666.0 1586.2,677.9 1596.2,625.0 1705.9,604.4 1825.6,689.4" fill="none" stroke="#202020" stroke-width="1.8" stroke-linejoin="miter" stroke-miterlimit="10"/>
<polyline points="1117.4,672.6 1227.1,700.6 1346.8,634.1 1356.8,647.1 1466.5,650.0 1586.2,652.0 1596.2,613.8 1705.9,653.0 1825.6,642.7" fill="none" stroke="#3a3a3a" stroke-width="1.5" stroke-linejoin="miter" stroke-miterlimit="10"/>
<polyline points="1117.4,717.5 1227.1,717.1 1346.8,670.5 1356.8,649.2 1466.5,680.0 1586.2,688.4 1596.2,646.1 1705.9,677.3 1825.6,688.5" fill="none" stroke="#202020" stroke-width="1.8" stroke-linejoin="miter" stroke-miterlimit="10"/>
<polyline points="1117.4,713.0 1227.1,726.9 1346.8,694.4 1356.8,663.2 1466.5,664.0 1586.2,655.0 1596.2,653.0 1705.9,655.0 1825.6,653.9" fill="none" stroke="#202020" stroke-width="1.8" stroke-linejoin="miter" stroke-miterlimit="10"/>
<line x1="1104.4" y1="655.7" x2="1945.8" y2="655.7" stroke="#000" stroke-width="2.3" stroke-linecap="round"/>
<line x1="1107.4" y1="513.0" x2="1107.4" y2="943.0" stroke="#111" stroke-width="2"/>
<line x1="1102.9" y1="938.5" x2="1945.3" y2="938.5" stroke="#111" stroke-width="2"/>
<text x="1099.0" y="946.8" text-anchor="end" class="tk" font-size="23">10</text>
<text x="1099.0" y="805.3" text-anchor="end" class="tk" font-size="23">100</text>
<text x="1099.0" y="663.9" text-anchor="end" class="tk" font-size="23">1000</text>
<text x="1099.0" y="522.0" text-anchor="end" class="tk" font-size="23">10000</text>
<text x="1107.4" y="969.0" text-anchor="middle" class="tk" font-size="23">0</text>
<text x="1227.1" y="969.0" text-anchor="middle" class="tk" font-size="23">12</text>
<text x="1346.8" y="969.0" text-anchor="middle" class="tk" font-size="23">24</text>
<text x="1466.5" y="969.0" text-anchor="middle" class="tk" font-size="23">36</text>
<text x="1586.2" y="969.0" text-anchor="middle" class="tk" font-size="23">48</text>
<text x="1705.9" y="969.0" text-anchor="middle" class="tk" font-size="23">60</text>
<text x="1825.6" y="969.0" text-anchor="middle" class="tk" font-size="23">72</text>
<text x="1945.3" y="969.0" text-anchor="middle" class="tk" font-size="23">84</text>
<text x="1652.3" y="916.4" class="an" textLength="207.9" lengthAdjust="spacingAndGlyphs">Ultrapen 30 mg qd</text>
<text x="1513.7" y="543.2" text-anchor="middle" class="lt">d</text></g>
<text transform="translate(41.0,656.5) rotate(-90)" class="big" textLength="315.2" lengthAdjust="spacingAndGlyphs">Concentration</text>
<text transform="translate(41.0,331.5) rotate(-90)" class="big" textLength="136.7" lengthAdjust="spacingAndGlyphs">(µg/L)</text>
<text x="984.7" y="1049.3" class="big" textLength="114.5" lengthAdjust="spacingAndGlyphs">Time</text>
<text x="1106.6" y="1049.3" class="big" textLength="65.9" lengthAdjust="spacingAndGlyphs">(h)</text>
</svg>
</body></html>
